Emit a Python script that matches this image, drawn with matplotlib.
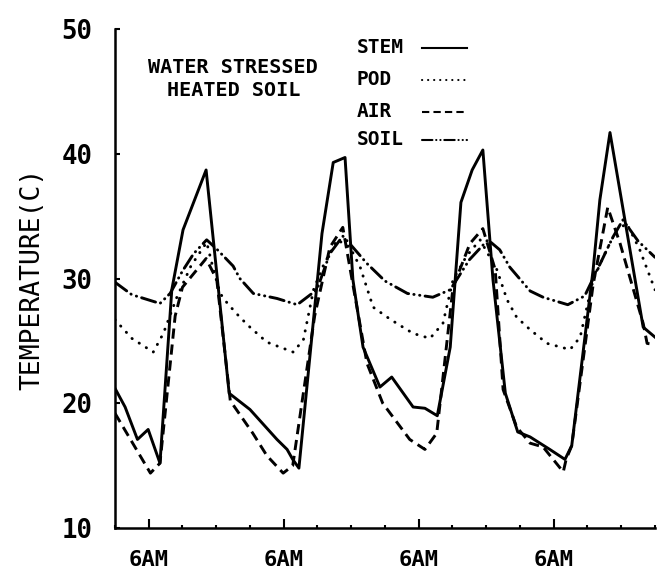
import matplotlib
matplotlib.use("Agg")
import matplotlib.pyplot as plt
from matplotlib.lines import Line2D
from matplotlib.ticker import FixedLocator, MultipleLocator

# hours from midnight of day 1, temperature in C
stem_h = [0, 1.8, 4, 5.9, 8, 10.1, 12.1, 16.2, 20.3, 24, 28.8, 30.6, 31.6, 32.7,
          36.8, 38.8, 40.9, 42.3, 44.1, 47.1, 49.2, 53, 55.1, 57.3, 59.6, 61.5,
          63.5, 65.4, 67.2, 69.4, 71.6, 73.8, 77.3, 80, 81.2, 85, 86.2, 88, 93.9, 96]
stem_t = [21.2, 19.7, 17.1, 17.9, 15.2, 29.1, 33.9, 38.7, 20.8, 19.5, 17.1, 16.3, 15.5, 14.8,
          33.6, 39.3, 39.7, 29.9, 24.5, 21.3, 22.1, 19.7, 19.6, 19.0, 24.5, 36.1,
          38.7, 40.3, 29.9, 20.8, 17.7, 17.3, 16.3, 15.5, 16.6, 30.7, 36.3, 41.7, 26.1, 25.3]

pod_h = [0, 3, 6.8, 8.6, 11, 13.5, 16.3, 17.4, 18.7, 20, 22.2, 24, 27, 31.7, 33.5,
         35.3, 37, 39.5, 41.8, 43.6, 45.9, 48.4, 50.1, 53, 56, 58.3, 60.1, 62.5,
         64.9, 67.9, 69.7, 71.4, 73.8, 76.8, 80.9, 82.7, 85, 87.4, 89.2, 91, 93.3, 96]
pod_t = [26.7, 25.2, 24.1, 25.6, 28.5, 31.0, 32.9, 30.9, 28.8, 28.0, 26.9, 26.1, 24.9, 24.1, 25.1,
         29.1, 31.0, 33.1, 32.5, 30.9, 27.7, 26.9, 26.4, 25.6, 25.2, 26.4, 29.9, 31.8,
         33.1, 30.7, 28.3, 26.9, 25.9, 24.8, 24.3, 25.3, 29.9, 32.3, 33.9, 34.4, 32.3, 29.1]

air_h = [0, 6.3, 8, 10.7, 12, 16.2, 18.1, 20.5, 24.5, 27, 29.9, 31.6, 35.5, 38.2,
         40.5, 42.3, 44.8, 47.6, 52.4, 55.1, 57.2, 60.1, 63.1, 65.4, 67.6, 69,
         71.4, 73.8, 76.1, 79.7, 80.2, 81.2, 85, 87.6, 89.8, 93.9, 94.6, 96]
air_t = [19.2, 14.4, 15.2, 27.0, 29.3, 31.6, 29.9, 20.2, 17.6, 15.8, 14.4, 15.0, 27.0, 32.5,
         34.1, 29.5, 23.2, 20.0, 17.1, 16.3, 17.6, 29.3, 32.8, 34.0, 30.7, 21.1,
         18.1, 16.8, 16.5, 14.5, 15.5, 16.6, 29.5, 35.7, 32.8, 26.4, 24.8, 24.7]

soil_h = [0, 3, 8, 9.8, 12, 14, 16.3, 18, 21, 22.2, 24.6, 28.8, 32.4, 35.9, 38.2,
          40.5, 42.3, 44.8, 48, 52, 56.5, 59.6, 63, 66.3, 68.4, 70.2, 73.8, 76.1,
          80.5, 83.5, 85, 88.5, 90.3, 93, 96]
soil_t = [29.7, 28.7, 28.0, 28.8, 30.6, 32.0, 33.1, 32.4, 31.0, 30.0, 28.8, 28.4, 27.9, 29.1, 32.0,
          33.4, 32.5, 31.2, 29.8, 28.8, 28.5, 29.1, 31.5, 33.1, 32.3, 30.9, 29.0, 28.5,
          27.9, 28.6, 30.0, 33.3, 34.7, 33.0, 31.7]

six_am = [6, 30, 54, 78]
six_am_labels = ["6AM", "6AM", "6AM", "6AM"]
y_ticks = [10, 20, 30, 40, 50]

mono = "DejaVu Sans Mono"
fig = plt.figure(figsize=(6.6, 5.73), dpi=100)
ax = fig.add_axes([0.1742, 0.0785, 0.8182, 0.8709])

lw = 2.1
series = [
    ("STEM", stem_h, stem_t, dict(linestyle="-")),
    ("POD", pod_h, pod_t, dict(linestyle=(0, (0.1, 2.8)), dash_capstyle="round")),
    ("AIR", air_h, air_t, dict(linestyle=(0, (3.5, 2.0)))),
    ("SOIL", soil_h, soil_t, dict(linestyle=(0, (5.0, 1.8, 0.1, 1.9, 0.1, 1.8)),
                                  dash_capstyle="round")),
]
for name, h, t, style in series:
    ax.plot(h, t, color="black", linewidth=lw, **style)

# legend drawn by hand: text on the left, sample on the right
rows = [0.962, 0.898, 0.834, 0.778]
for (name, h, t, style), ry in zip(series, rows):
    ax.text(0.448, ry, name, transform=ax.transAxes, family=mono, fontweight="bold",
            fontsize=14, va="center", ha="left")
    ax.add_line(Line2D([0.569, 0.652], [ry, ry], transform=ax.transAxes,
                       color="black", linewidth=1.5, **style))

ax.text(0.219, 0.90, "WATER STRESSED\nHEATED SOIL", transform=ax.transAxes,
        family=mono, fontweight="bold", fontsize=14.5, ha="center", va="center",
        linespacing=1.25)

ax.set_xlim(0, 96)
ax.set_ylim(10, 50)
ax.spines["top"].set_visible(False)
ax.spines["right"].set_visible(False)
for s in ("left", "bottom"):
    ax.spines[s].set_linewidth(1.8)

ax.xaxis.set_major_locator(FixedLocator(six_am))
ax.xaxis.set_minor_locator(MultipleLocator(6))
ax.set_xticklabels(six_am_labels)
ax.set_yticks(y_ticks)
ax.tick_params(axis="x", which="major", direction="in", length=6.5, width=1.5, pad=16)
ax.tick_params(axis="x", which="minor", direction="in", length=2.5, width=1.5)
ax.tick_params(axis="y", which="major", direction="in", length=3.5, width=1.5, pad=16)
for lab in ax.get_xticklabels() + ax.get_yticklabels():
    lab.set_family(mono)
    lab.set_fontweight("bold")
for lab in ax.get_xticklabels():
    lab.set_fontsize(16)
for lab in ax.get_yticklabels():
    lab.set_fontsize(18.5)

ax.set_ylabel("TEMPERATURE(C)", family=mono, fontsize=19, labelpad=12)

fig.savefig("out.png", dpi=100)
